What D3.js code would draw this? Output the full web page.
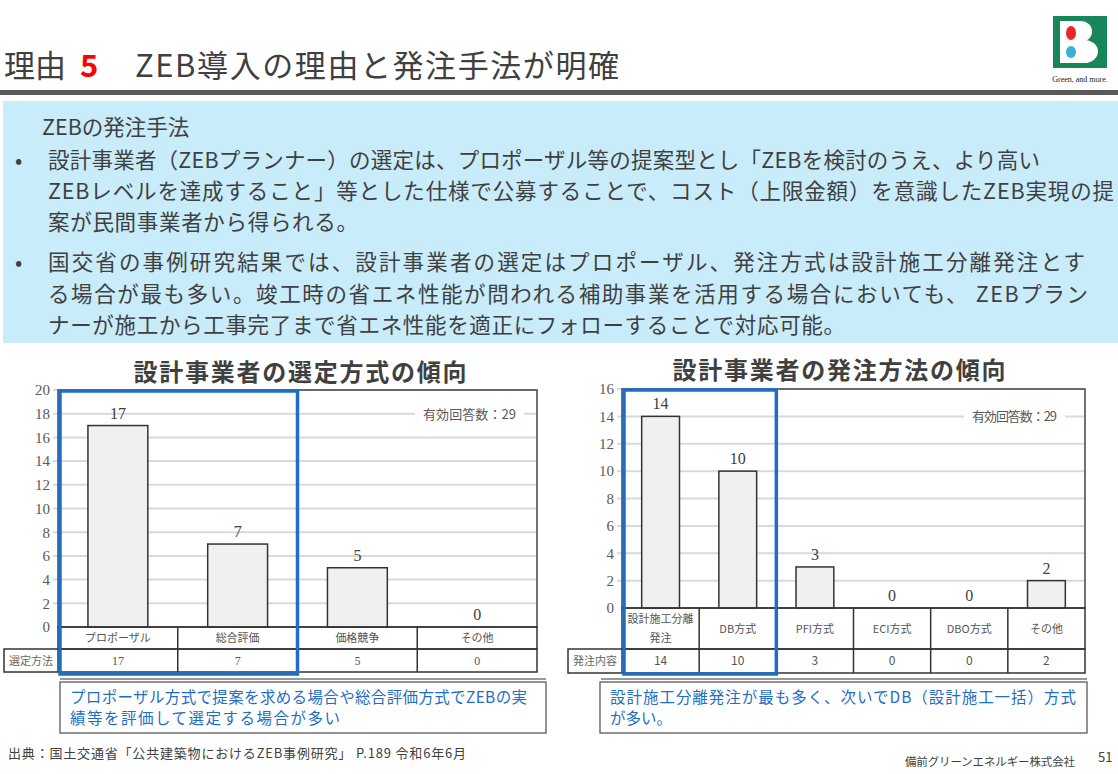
<!DOCTYPE html>
<html><head><meta charset="utf-8">
<script src="https://cdn.jsdelivr.net/npm/d3@7"></script>
<style>
html,body{margin:0;padding:0;background:#fff;}
svg{display:block;}
</style></head>
<body>
<svg id="c" width="1118" height="774"></svg>
<script>
// ---------- data ----------
const leftTitle = "設計事業者の選定方式の傾向";
const leftCategories = ["プロポーザル", "総合評価", "価格競争", "その他"];
const leftValues = [17, 7, 5, 0];
const leftTicks = [0, 2, 4, 6, 8, 10, 12, 14, 16, 18, 20];
const leftRowLabel = "選定方法";

const rightTitle = "設計事業者の発注方法の傾向";
const rightCategories = [["設計施工分離", "発注"], ["DB方式"], ["PFI方式"], ["ECI方式"], ["DBO方式"], ["その他"]];
const rightValues = [14, 10, 3, 0, 0, 2];
const rightTicks = [0, 2, 4, 6, 8, 10, 12, 14, 16];
const rightRowLabel = "発注内容";

const answerNote = "有効回答数：29";

const pageTitle = ["理由", "5", "ZEB導入の理由と発注手法が明確"];
const headingLines = ["ZEBの発注手法"];
const bullet1 = ["設計事業者（ZEBプランナー）の選定は、プロポーザル等の提案型とし「ZEBを検討のうえ、より高い",
  "ZEBレベルを達成すること」等とした仕様で公募することで、コスト（上限金額）を意識したZEB実現の提",
  "案が民間事業者から得られる。"];
const bullet2 = ["国交省の事例研究結果では、設計事業者の選定はプロポーザル、発注方式は設計施工分離発注とす",
  "る場合が最も多い。竣工時の省エネ性能が問われる補助事業を活用する場合においても、 ZEBプラン",
  "ナーが施工から工事完了まで省エネ性能を適正にフォローすることで対応可能。"];
const leftNote = ["プロポーザル方式で提案を求める場合や総合評価方式でZEBの実", "績等を評価して選定する場合が多い"];
const rightNote = ["設計施工分離発注が最も多く、次いでDB（設計施工一括）方式", "が多い。"];
const sourceText = "出典：国土交通省「公共建築物におけるZEB事例研究」 P.189 令和6年6月";
const companyText = "備前グリーンエネルギー株式会社";
const pageNo = "51";

// ---------- drawing ----------
const svg = d3.select("#c");
const JP = "'Noto Sans CJK JP','Noto Sans',sans-serif";
const SERIF = "'Liberation Serif','DejaVu Serif',serif";
const TXT = "#404040";
const BLUE = "#1f6ec3";

// Header title
svg.append("text").attr("x", 4).attr("y", 77).style("font-family", JP).style("font-size", "31px")
  .attr("fill", "#404040").text(pageTitle[0]);
svg.append("text").attr("x", 80).attr("y", 77).style("font-family", JP).style("font-size", "31px")
  .style("font-weight", "bold").attr("fill", "#ff0000").text(pageTitle[1]);
svg.append("text").attr("x", 135).attr("y", 77).attr("textLength", 484).style("font-family", JP).style("font-size", "31px")
  .attr("fill", "#404040").text(pageTitle[2]);
svg.append("rect").attr("x", 0).attr("y", 90).attr("width", 1118).attr("height", 5).attr("fill", "#595959");

// Logo (shapes)
const logo = svg.append("g");
logo.append("rect").attr("x", 1053).attr("y", 16).attr("width", 54).attr("height", 52).attr("fill", "#17865a");
const wB = logo.append("g").attr("fill", "#fff");
wB.append("rect").attr("x", 1060).attr("y", 21).attr("width", 20).attr("height", 21);
wB.append("ellipse").attr("cx", 1081).attr("cy", 31.5).attr("rx", 11).attr("ry", 10.5);
wB.append("rect").attr("x", 1060).attr("y", 40).attr("width", 22).attr("height", 23);
wB.append("ellipse").attr("cx", 1084).attr("cy", 51.5).attr("rx", 14).attr("ry", 11.5);
logo.append("ellipse").attr("cx", 1071).attr("cy", 33).attr("rx", 5).attr("ry", 7).attr("fill", "#e8262c");
logo.append("ellipse").attr("cx", 1071).attr("cy", 52).attr("rx", 5).attr("ry", 6).attr("fill", "#3aaedc");
logo.append("text").attr("x", 1080).attr("y", 82).attr("text-anchor", "middle")
  .style("font-family", SERIF).style("font-size", "8px").attr("fill", "#222").text("Green, and more.");

// Blue info box
svg.append("rect").attr("x", 3).attr("y", 101).attr("width", 1115).attr("height", 242).attr("fill", "#c9ecfb");
const body = svg.append("g").style("font-family", JP).style("font-size", "21.5px").attr("fill", TXT);
body.append("text").attr("x", 42).attr("y", 135).text(headingLines[0]);
const b1y = [168, 199, 230], b2y = [270, 302, 333];
const b1len = [992, 1066, 310], b2len = [1037, 1040, 797];
body.append("text").attr("x", 15).attr("y", b1y[0]).text("•");
body.append("text").attr("x", 15).attr("y", b2y[0]).text("•");
bullet1.forEach((s, i) => body.append("text").attr("x", 48).attr("y", b1y[i]).attr("textLength", b1len[i]).text(s));
bullet2.forEach((s, i) => body.append("text").attr("x", 48).attr("y", b2y[i]).attr("textLength", b2len[i]).text(s));

// Chart builder
function drawChart(cfg) {
  const g = svg.append("g");
  const x = d3.scaleBand().domain(d3.range(cfg.values.length)).range([cfg.left, cfg.right]).paddingInner(0).paddingOuter(0);
  const y = d3.scaleLinear().domain([0, cfg.ticks[cfg.ticks.length - 1]]).range([cfg.bottom, cfg.top]);

  // title
  g.append("text").attr("x", cfg.titleX).attr("y", cfg.titleY).attr("text-anchor", "middle")
    .style("font-family", JP).style("font-weight", "bold").style("font-size", "24px").attr("fill", "#404040")
    .attr("textLength", cfg.titleLen).text(cfg.title);

  // grid
  g.selectAll(".grid").data(cfg.ticks.filter(v => v > 0)).join("line")
    .attr("x1", cfg.left - 5).attr("x2", cfg.right).attr("y1", d => y(d)).attr("y2", d => y(d))
    .attr("stroke", "#d9d9d9").attr("stroke-width", 2);

  // y axis labels
  const ax = d3.axisLeft(y).tickValues(cfg.ticks).tickSize(0).tickPadding(0);
  const axG = g.append("g").attr("transform", `translate(${cfg.left - 8},0)`).call(ax);
  axG.select(".domain").remove();
  axG.selectAll("text").style("font-family", SERIF).style("font-size", "15px").attr("fill", "#595959");

  // frame
  g.append("rect").attr("x", cfg.left).attr("y", cfg.top).attr("width", cfg.right - cfg.left).attr("height", cfg.bottom - cfg.top)
    .attr("fill", "none").attr("stroke", "#444").attr("stroke-width", 1.5);

  // note
  const nw = cfg.noteW;
  g.append("rect").attr("x", cfg.noteX - 8).attr("y", y(cfg.noteAt) - 3).attr("width", nw + 16).attr("height", 6).attr("fill", "#fff");
  g.append("text").attr("x", cfg.noteX).attr("y", y(cfg.noteAt) + 5).attr("textLength", nw)
    .style("font-family", JP).style("font-size", "13px").attr("fill", "#595959").text(answerNote);

  // bars
  const bw = x.bandwidth() * cfg.barFrac;
  g.selectAll(".bar").data(cfg.values.map((v, i) => ({v, i}))).join("rect")
    .attr("x", d => x(d.i) + (x.bandwidth() - bw) / 2).attr("width", bw)
    .attr("y", d => y(d.v)).attr("height", d => y(0) - y(d.v))
    .attr("fill", "#f0f0f0").attr("stroke", "#333").attr("stroke-width", 1.5);
  g.selectAll(".val").data(cfg.values.map((v, i) => ({v, i}))).join("text")
    .attr("x", d => x(d.i) + x.bandwidth() / 2).attr("y", d => y(d.v) - 7).attr("text-anchor", "middle")
    .style("font-family", SERIF).style("font-size", "16px").attr("fill", "#404040").text(d => d.v);

  // table
  const r1 = cfg.bottom, r2 = cfg.row2, r3 = cfg.row3;
  const tb = g.append("g").attr("stroke", "#333").attr("stroke-width", 1.5).attr("fill", "none");
  tb.append("rect").attr("x", cfg.left).attr("y", r1).attr("width", cfg.right - cfg.left).attr("height", r2 - r1);
  tb.append("rect").attr("x", cfg.labelX).attr("y", r2).attr("width", cfg.right - cfg.labelX).attr("height", r3 - r2);
  tb.selectAll(".sep").data(d3.range(1, cfg.values.length)).join("line")
    .attr("x1", d => x(d)).attr("x2", d => x(d)).attr("y1", r1).attr("y2", r3);
  tb.append("line").attr("x1", cfg.left).attr("x2", cfg.left).attr("y1", r2).attr("y2", r3);

  g.selectAll(".cat").data(cfg.categories.map((c, i) => ({c, i}))).join("text")
    .attr("x", d => x(d.i) + x.bandwidth() / 2).attr("text-anchor", "middle")
    .style("font-family", JP).style("font-size", "11px").attr("fill", "#555")
    .each(function (d) {
      const lines = Array.isArray(d.c) ? d.c : [d.c];
      const mid = (r1 + r2) / 2;
      const lh = 19;
      lines.forEach((ln, k) => {
        d3.select(this).append("tspan").attr("x", x(d.i) + x.bandwidth() / 2)
          .attr("y", mid + 4 + (k - (lines.length - 1) / 2) * lh).text(ln);
      });
    });
  g.selectAll(".tv").data(cfg.values.map((v, i) => ({v, i}))).join("text")
    .attr("x", d => x(d.i) + x.bandwidth() / 2).attr("y", (r2 + r3) / 2 + 4).attr("text-anchor", "middle")
    .style("font-family", cfg.tableFont).style("font-size", "12px").attr("fill", "#555").text(d => d.v);
  g.append("text").attr("x", cfg.labelX + 5).attr("y", (r2 + r3) / 2 + 4)
    .style("font-family", JP).style("font-size", "11px").attr("fill", "#666").text(cfg.rowLabel);

  // underline
  g.append("line").attr("x1", cfg.ulX1).attr("x2", cfg.ulX2).attr("y1", 679).attr("y2", 679)
    .attr("stroke", "#777").attr("stroke-width", 1.5);

  // highlight
  g.append("rect").attr("x", cfg.left + 2).attr("y", cfg.top + 1).attr("width", x(2) - cfg.left - 2).attr("height", 674 - cfg.top - 1)
    .attr("fill", "none").attr("stroke", BLUE).attr("stroke-width", 3.5);

  // note box
  g.append("rect").attr("x", cfg.boxX).attr("y", 682).attr("width", cfg.boxW).attr("height", 51)
    .attr("fill", "#fff").attr("stroke", "#595959").attr("stroke-width", 1.3);
  cfg.note.forEach((s, i) => g.append("text").attr("x", cfg.boxX + 10).attr("y", 703 + i * 21)
    .style("font-family", JP).style("font-size", "15.5px").attr("fill", BLUE)
    .attr("textLength", cfg.noteLens[i]).text(s));
}

drawChart({
  title: leftTitle, titleX: 300, titleY: 381, titleLen: 333,
  categories: leftCategories, values: leftValues, ticks: leftTicks, rowLabel: leftRowLabel,
  left: 58, right: 537, top: 390, bottom: 627, row2: 649, row3: 672, labelX: 4,
  barFrac: 0.5, noteX: 423, noteW: 93, noteAt: 18, tableFont: SERIF,
  ulX1: 60, ulX2: 546, boxX: 60, boxW: 486, note: leftNote, noteLens: [457, 270]
});
drawChart({
  title: rightTitle, titleX: 839, titleY: 379, titleLen: 333,
  categories: rightCategories, values: rightValues, ticks: rightTicks, rowLabel: rightRowLabel,
  left: 622, right: 1085, top: 389, bottom: 608, row2: 649, row3: 673, labelX: 568,
  barFrac: 0.49, noteX: 972, noteW: 85, noteAt: 14, tableFont: JP,
  ulX1: 601, ulX2: 1087, boxX: 600, boxW: 487, note: rightNote, noteLens: [466, 62]
});

// footer
svg.append("text").attr("x", 8).attr("y", 758).attr("textLength", 458)
  .style("font-family", JP).style("font-size", "13px").attr("fill", TXT).text(sourceText);
svg.append("text").attr("x", 905).attr("y", 766).attr("textLength", 170)
  .style("font-family", JP).style("font-size", "11.5px").attr("fill", TXT).text(companyText);
svg.append("text").attr("x", 1098).attr("y", 762)
  .style("font-family", JP).style("font-size", "13px").attr("fill", TXT).text(pageNo);
</script>
</body></html>
